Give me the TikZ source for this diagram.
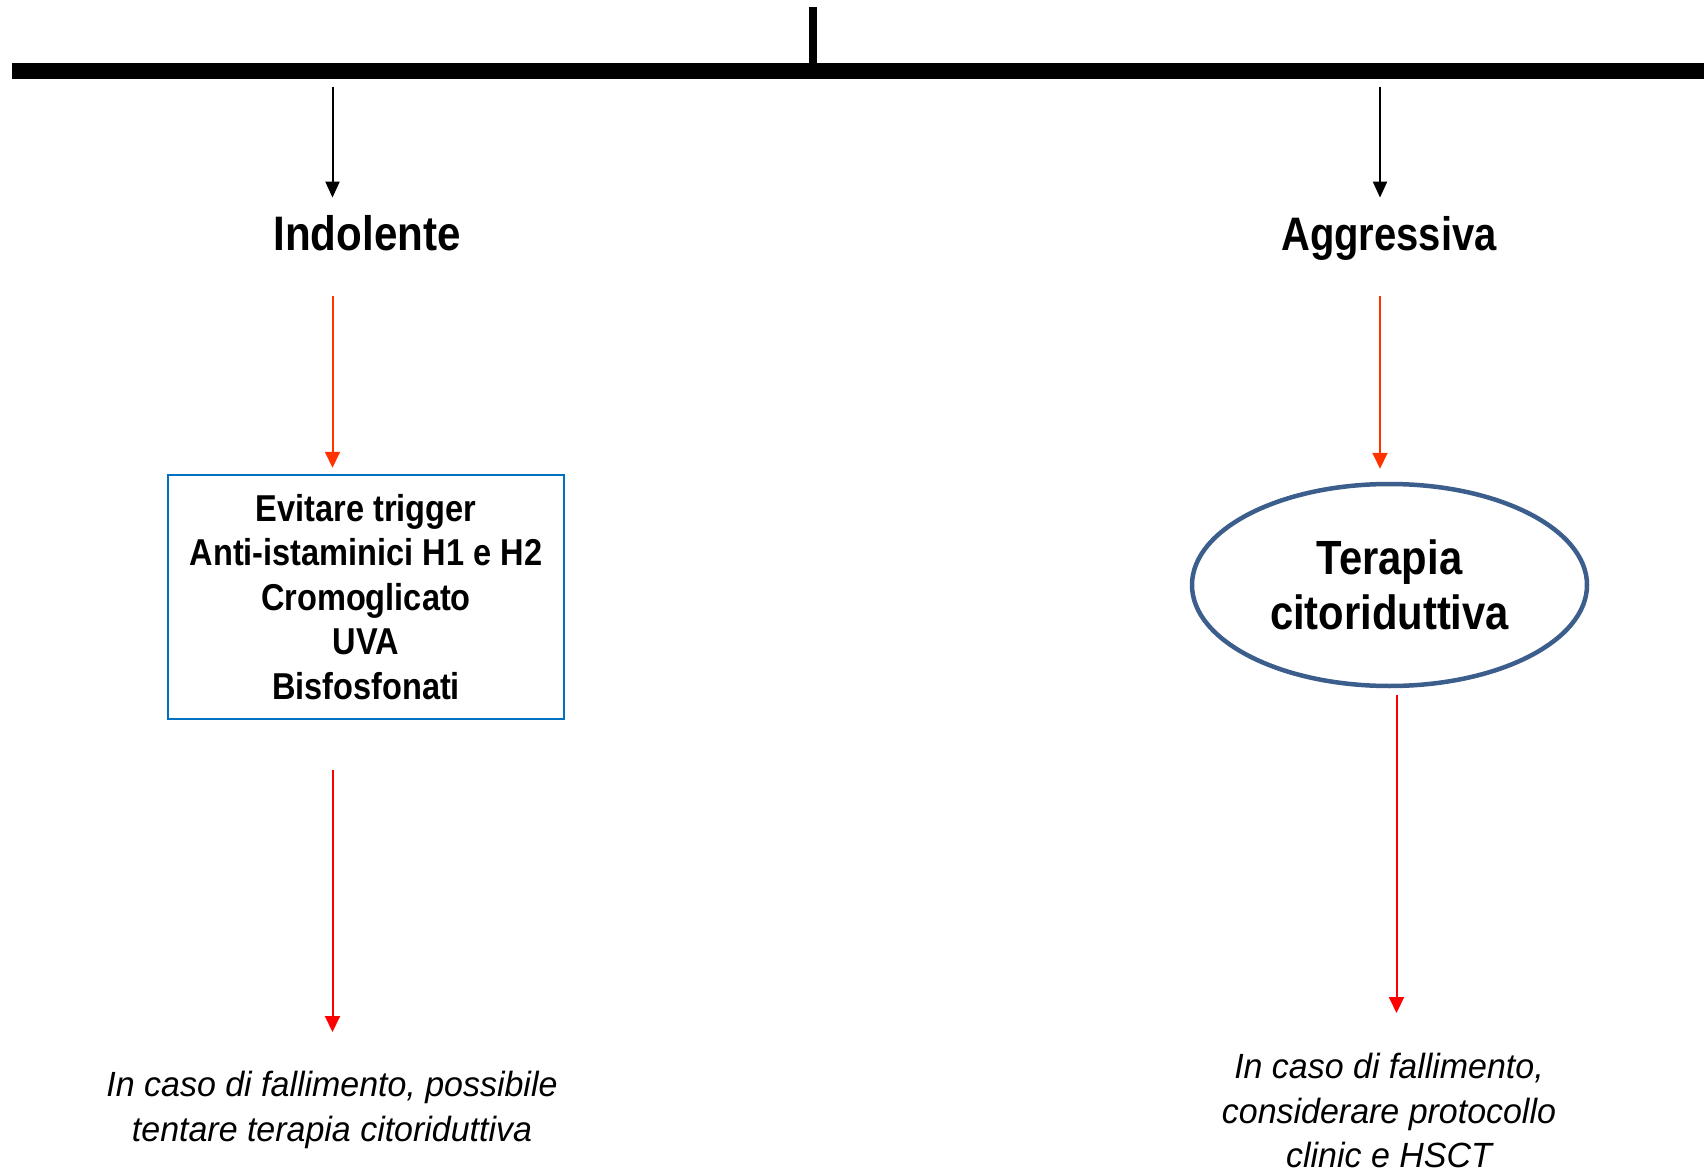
\documentclass[tikz,border=0pt]{standalone}
\usepackage{fontspec}
\setmainfont{Liberation Sans}
\newfontfamily\stretto[FakeStretch=0.87]{Liberation Sans}
\newfontfamily\strettino[FakeStretch=0.85]{Liberation Sans}
\newfontfamily\corsivo[FakeStretch=0.97]{Liberation Sans}
\usetikzlibrary{arrows.meta,shapes.geometric}

\definecolor{rossoarancio}{RGB}{255,51,0}
\definecolor{rossopuro}{RGB}{255,0,0}
\definecolor{bluriquadro}{RGB}{0,112,192}
\definecolor{bluovale}{RGB}{60,94,140}

\begin{document}
\begin{tikzpicture}[x=0.5pt, y=-0.5pt,
        nera/.style={-{Triangle[length=8pt,width=7pt]}, line width=1pt, black},
        rossa/.style={-{Triangle[length=8pt,width=7.5pt]}, line width=1pt, rossoarancio},
        rossapura/.style={-{Triangle[length=8pt,width=7.5pt]}, line width=1pt, rossopuro},
        titolo/.style={anchor=base, inner sep=0pt, text height=26pt, text depth=23pt,
            font=\stretto\bfseries\fontsize{23.75}{28}\selectfont},
        riquadro/.style={draw=bluriquadro, line width=1.25pt, inner sep=0pt,
            minimum width=198pt, minimum height=122pt, align=center,
            font=\stretto\bfseries\fontsize{18.7}{22.3}\selectfont},
        ovale/.style={ellipse, draw=bluovale, line width=2.25pt, inner sep=0pt,
            minimum width=197.5pt, minimum height=101pt, align=center,
            font=\stretto\bfseries\fontsize{24}{27.5}\selectfont},
        nota/.style={anchor=north, inner sep=0pt, align=center,
            font=\corsivo\itshape\fontsize{17.5}{22.3}\selectfont}]

        \useasboundingbox (0, 0) rectangle (1704, 1172);

        % barra orizzontale
        \coordinate (barsx) at (12, 71);
        \coordinate (bardx) at (1704, 71);
        \coordinate (stelo) at (813, 7);
        \draw[line width=8pt] (barsx) -- (bardx);
        \draw[line width=4pt] (stelo) -- (stelo |- barsx);

        \coordinate (sx) at (332.5, 87);
        \coordinate (dx) at (1380, 87);
        \coordinate (dxbasso) at (1396.5, 87);

        \node[titolo, font=\stretto\bfseries\fontsize{24.2}{28}\selectfont] (indolente) at (367, 250) { Indolente };
        \node[titolo, font=\strettino\bfseries\fontsize{23.5}{28}\selectfont] (aggressiva) at (1389, 250) { Aggressiva };

        \node[riquadro] (cure) at (366, 597) { Evitare trigger\\ Anti-istaminici H1 e H2\\ Cromoglicato\\ UVA\\ Bisfosfonati };
        \node[ovale] (terapia) at (1389.5, 585) { Terapia\\ citoriduttiva };

        \node[nota] (fallsx) at (332, 1071) { In caso di fallimento, possibile\\ tentare terapia citoriduttiva };
        \node[nota] (falldx) at (1389, 1053) { In caso di fallimento,\\ considerare protocollo\\ clinic e HSCT };

        \draw[nera] (sx) -- (sx |- indolente.north);
        \draw[nera] (dx) -- (dx |- aggressiva.north);

        \draw[rossa, shorten >=3pt] (sx |- indolente.south) -- (sx |- cure.north);
        \draw[rossa, shorten >=6.5pt] (dx |- aggressiva.south) -- (dx |- terapia.north);

        \draw[rossapura, shorten <=25pt, shorten >=19.5pt] (sx |- cure.south) -- (sx |- fallsx.north);
        \draw[rossapura, shorten <=3.5pt, shorten >=20pt] (dxbasso |- terapia.south) -- (dxbasso |- falldx.north);

    \end{tikzpicture}
\end{document}
